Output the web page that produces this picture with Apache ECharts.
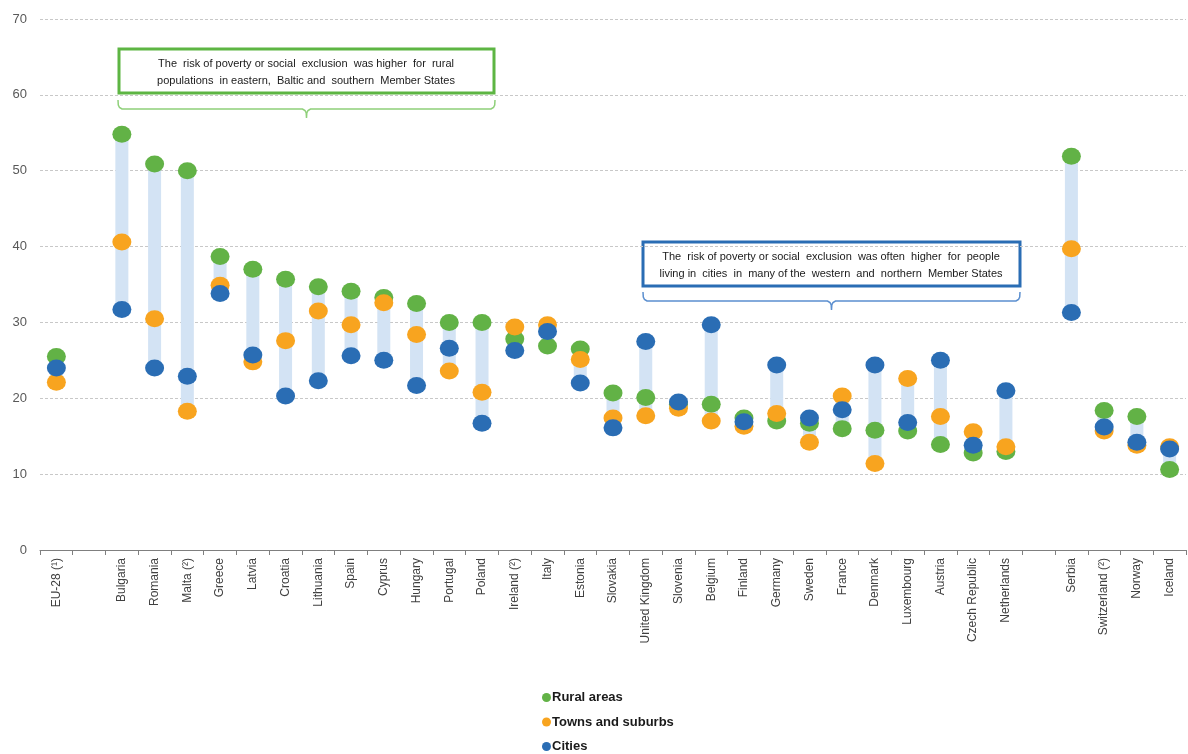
<!DOCTYPE html>
<html>
<head>
<meta charset="utf-8">
<script src="https://cdn.jsdelivr.net/npm/echarts@6/dist/echarts.min.js"></script>
<style>
html,body{margin:0;padding:0;background:#fff;}
#chart{width:1188px;height:754px;}
</style>
</head>
<body>
<div id="chart"></div>
<script>
const categories = ['EU-28 (¹)', ' ', 'Bulgaria', 'Romania', 'Malta (²)', 'Greece', 'Latvia', 'Croatia', 'Lithuania', 'Spain', 'Cyprus', 'Hungary', 'Portugal', 'Poland', 'Ireland (²)', 'Italy', 'Estonia', 'Slovakia', 'United Kingdom', 'Slovenia', 'Belgium', 'Finland', 'Germany', 'Sweden', 'France', 'Denmark', 'Luxembourg', 'Austria', 'Czech Republic', 'Netherlands', '  ', 'Serbia', 'Switzerland (²)', 'Norway', 'Iceland'];
const rural  = [25.5, null, 54.8, 50.9, 50.0, 38.7, 37.0, 35.7, 34.7, 34.1, 33.3, 32.5, 30.0, 30.0, 27.8, 26.9, 26.5, 20.7, 20.1, 19.2, 19.2, 17.4, 17.0, 16.7, 16.0, 15.8, 15.7, 13.9, 12.8, 13.0, null, 51.9, 18.4, 17.6, 10.6];
const towns  = [22.1, null, 40.6, 30.5, 18.3, 34.9, 24.8, 27.6, 31.5, 29.7, 32.6, 28.4, 23.6, 20.8, 29.4, 29.7, 25.1, 17.4, 17.7, 18.7, 17.0, 16.3, 18.0, 14.2, 20.3, 11.4, 22.6, 17.6, 15.6, 13.6, null, 39.7, 15.7, 13.8, 13.6];
const cities = [24.0, null, 31.7, 24.0, 22.9, 33.8, 25.7, 20.3, 22.3, 25.6, 25.0, 21.7, 26.6, 16.7, 26.3, 28.8, 22.0, 16.1, 27.5, 19.5, 29.7, 16.9, 24.4, 17.4, 18.5, 24.4, 16.8, 25.0, 13.8, 21.0, null, 31.3, 16.2, 14.2, 13.3];
const yTicks = [0, 10, 20, 30, 40, 50, 60, 70];

const lows = categories.map((c, i) => rural[i] == null ? null : Math.min(rural[i], towns[i], cities[i]));
const ranges = categories.map((c, i) => rural[i] == null ? null : Math.max(rural[i], towns[i], cities[i]) - lows[i]);

const chart = echarts.init(document.getElementById('chart'));
const font = '"Liberation Sans", Arial, sans-serif';
const sym = [19, 17];

function brace(x1, x2, y, color) {
  const xm = (x1 + x2) / 2;
  const h = 9;
  return {
    type: 'polyline', silent: true,
    shape: { points: [
      [x1, y], [x1 + 0.3, y + 5], [x1 + 1.5, y + 7.5], [x1 + 4, y + h],
      [xm - 4, y + h], [xm - 1.5, y + h + 1.5], [xm - 0.3, y + h + 4], [xm, y + h + 9],
      [xm + 0.3, y + h + 4], [xm + 1.5, y + h + 1.5], [xm + 4, y + h],
      [x2 - 4, y + h], [x2 - 1.5, y + 7.5], [x2 - 0.3, y + 5], [x2, y]
    ] },
    style: { stroke: color, lineWidth: 1.5, fill: null }
  };
}

chart.setOption({
  animation: false,
  textStyle: { fontFamily: font },
  grid: { left: 40, right: 2, top: 19, bottom: 204, containLabel: false },
  legend: {
    data: ['Rural areas', 'Towns and suburbs', 'Cities'],
    orient: 'vertical', left: 542, top: 690, padding: 0,
    icon: 'circle', itemWidth: 9, itemHeight: 9, itemGap: 9.5,
    textStyle: { fontFamily: font, fontSize: 13, fontWeight: 'bold', color: '#1a1a1a', padding: [0, 0, 0, -4], lineHeight: 15 }
  },
  xAxis: {
    type: 'category', data: categories,
    axisLine: { lineStyle: { color: '#7f7f7f', width: 1 } },
    axisTick: { show: true, length: 5, lineStyle: { color: '#7f7f7f' } },
    axisLabel: { rotate: 90, interval: 0, fontSize: 12, color: '#404040', margin: 8, fontFamily: font }
  },
  yAxis: {
    type: 'value', min: 0, max: 70, interval: 10,
    axisLine: { show: false }, axisTick: { show: false },
    axisLabel: { fontSize: 13, color: '#595959', margin: 13, fontFamily: font,
      formatter: v => yTicks.includes(v) ? String(v) : '' },
    splitLine: { lineStyle: { color: '#c8c8c8', type: [3, 2], width: 1 } }
  },
  series: [
    { name: 'base', type: 'bar', stack: 'r', data: lows, barWidth: 13, itemStyle: { color: 'transparent' }, silent: true, legendHoverLink: false },
    { name: 'range', type: 'bar', stack: 'r', data: ranges, barWidth: 13, itemStyle: { color: '#d3e3f4' }, silent: true },
    { name: 'Rural areas', type: 'scatter', data: rural, symbol: 'circle', symbolSize: sym, itemStyle: { color: '#62b246', opacity: 1 }, z: 3 },
    { name: 'Towns and suburbs', type: 'scatter', data: towns, symbol: 'circle', symbolSize: sym, itemStyle: { color: '#f8a41f', opacity: 1 }, z: 4 },
    { name: 'Cities', type: 'scatter', data: cities, symbol: 'circle', symbolSize: sym, itemStyle: { color: '#2a6db4', opacity: 1 }, z: 5 }
  ],
  graphic: [
    { type: 'rect', shape: { x: 119, y: 49, width: 375, height: 44 }, style: { fill: '#fff', stroke: '#5db543', lineWidth: 3 } },
    { type: 'text', x: 306, y: 55, style: { text: 'The  risk of poverty or social  exclusion  was higher  for  rural\npopulations  in eastern,  Baltic and  southern  Member States', align: 'center', font: '11px ' + font, fill: '#1a1a1a', lineHeight: 17 } },
    brace(118, 495, 100, '#8fd07a'),
    { type: 'rect', shape: { x: 643, y: 242, width: 377, height: 44 }, style: { fill: '#fff', stroke: '#2a6db4', lineWidth: 3 } },
    { type: 'text', x: 831, y: 248, style: { text: 'The  risk of poverty or social  exclusion  was often  higher  for  people\nliving in  cities  in  many of the  western  and  northern  Member States', align: 'center', font: '11px ' + font, fill: '#1a1a1a', lineHeight: 17 } },
    brace(643, 1020, 292, '#5b8fcf')
  ]
});
</script>
</body>
</html>
